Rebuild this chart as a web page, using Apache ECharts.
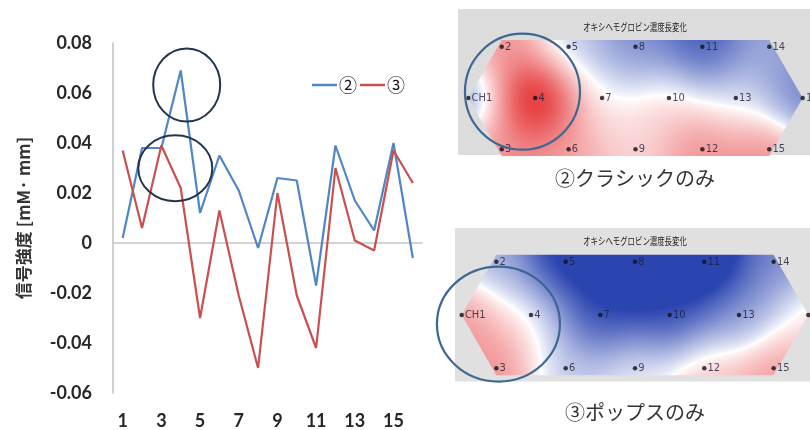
<!DOCTYPE html>
<html>
<head>
<meta charset="utf-8">
<script src="https://cdn.jsdelivr.net/npm/echarts@6/dist/echarts.min.js"></script>
<style>
  html, body { margin: 0; padding: 0; background: #fff; }
  #chart { width: 810px; height: 430px; }
</style>
</head>
<body>
<div id="chart"></div>
<script>
// ---- data ----
const channelNames = ['1','2','3','4','5','6','7','8','9','10','11','12','13','14','15','16'];
const seriesNames = ['②', '③'];
const classicValues = [0.002, 0.038, 0.038, 0.069, 0.012, 0.035, 0.021, -0.002, 0.026, 0.025, -0.017, 0.039, 0.017, 0.005, 0.040, -0.006];
const popsValues    = [0.037, 0.006, 0.039, 0.022, -0.030, 0.013, -0.021, -0.050, 0.020, -0.021, -0.042, 0.030, 0.001, -0.003, 0.037, 0.024];
const yMin = -0.06, yMax = 0.08, yStep = 0.02;
const yAxisTitle = '信号強度 [mM· mm]';

// probe layout on the head map (column / row of each channel)
const probeCol = [0, 1, 1, 2, 3, 3, 4, 5, 5, 6, 7, 7, 8, 9, 9, 10];
const probeRow = [1, 0, 2, 1, 0, 2, 1, 0, 2, 1, 0, 2, 1, 0, 2, 1];
const probeLabels = ['CH1','2','3','4','5','6','7','8','9','10','11','12','13','14','15','16'];
const mapTitle = 'オキシヘモグロビン濃度長変化';
const mapCaptions = ['②クラシックのみ', '③ポップスのみ'];

// highlighted spots: [category position (0-based), value] on the line chart
const lineHighlights = [[3.31, 0.0632], [2.72, 0.0299]];
// highlighted spots on each map: [column, row]
const mapHighlights = [[1.62, 0.877], [1.06, 1.17]];

// ---- colour scale for the maps ----
const NEUTRAL = 0.02;
function heatColor(v) {
  const white = [255, 255, 255];
  let target, t;
  if (v >= NEUTRAL) {
    target = [231, 68, 70];
    t = Math.min(1, (v - NEUTRAL) / 0.034);
    t = Math.pow(t, 0.85);
  } else {
    target = [42, 68, 176];
    t = Math.min(1, (NEUTRAL - v) / 0.042);
    t = Math.pow(t, 0.75);
  }
  return [0, 1, 2].map(k => white[k] + (target[k] - white[k]) * t);
}

// smoothed field of the probe values (Gaussian weighting), clipped to the hexagonal probe area
function buildField(api, values) {
  const pts = probeCol.map((c, i) => api.coord([c, probeRow[i]]));
  const colStep = api.coord([1, 0])[0] - api.coord([0, 0])[0];
  const sigma = colStep * 0.85;
  const inv2s2 = 1 / (2 * sigma * sigma);
  const hex = [[0, 1], [1, -0.13], [9, -0.13], [10, 1], [9, 2.13], [1, 2.13]].map(p => api.coord(p));
  const xs = hex.map(p => p[0]), ys = hex.map(p => p[1]);
  const x0 = Math.floor(Math.min(...xs)), x1 = Math.ceil(Math.max(...xs));
  const y0 = Math.floor(Math.min(...ys)), y1 = Math.ceil(Math.max(...ys));
  const w = x1 - x0, h = y1 - y0;
  const cv = document.createElement('canvas');
  cv.width = w; cv.height = h;
  const ctx = cv.getContext('2d');
  const img = ctx.createImageData(w, h);
  for (let y = 0; y < h; y++) {
    for (let x = 0; x < w; x++) {
      const px = x0 + x + 0.5, py = y0 + y + 0.5;
      let sw = 0, sv = 0;
      for (let i = 0; i < pts.length; i++) {
        const dx = px - pts[i][0], dy = py - pts[i][1];
        const wt = Math.exp(-(dx * dx + dy * dy) * inv2s2) + 1e-12;
        sw += wt; sv += wt * values[i];
      }
      const col = heatColor(sv / sw);
      const o = (y * w + x) * 4;
      img.data[o] = col[0]; img.data[o + 1] = col[1]; img.data[o + 2] = col[2]; img.data[o + 3] = 255;
    }
  }
  ctx.putImageData(img, 0, 0);
  ctx.globalCompositeOperation = 'destination-in';
  ctx.beginPath();
  hex.forEach((p, i) => i ? ctx.lineTo(p[0] - x0, p[1] - y0) : ctx.moveTo(p[0] - x0, p[1] - y0));
  ctx.closePath();
  ctx.fill();
  return { type: 'image', silent: true, style: { image: cv, x: x0, y: y0, width: w, height: h } };
}

function fieldSeries(gridIdx, values) {
  return {
    type: 'custom',
    xAxisIndex: gridIdx, yAxisIndex: gridIdx,
    z: 2, silent: true,
    data: probeCol.map((c, i) => [c, probeRow[i], values[i]]),
    renderItem: (params, api) => params.dataIndex === 0 ? buildField(api, values) : null
  };
}

function probeSeries(gridIdx) {
  return {
    type: 'scatter',
    xAxisIndex: gridIdx, yAxisIndex: gridIdx,
    z: 4, silent: true,
    symbolSize: 4.5,
    itemStyle: { color: '#111' },
    label: {
      show: true, position: 'right', distance: 1, formatter: '{b}',
      fontSize: 11, color: '#1d1d3a',
      fontFamily: '"DejaVu Sans Condensed", "Liberation Sans Narrow", "Liberation Sans", sans-serif'
    },
    data: probeCol.map((c, i) => ({ value: [c, probeRow[i]], name: probeLabels[i] }))
  };
}

const chart = echarts.init(document.getElementById('chart'), null, { renderer: 'canvas' });

const numFont = 'Lato, "Liberation Sans", sans-serif';
const option = {
  animation: false,
  backgroundColor: '#ffffff',
  legend: {
    data: seriesNames,
    left: 307, top: 71,
    icon: 'rect', itemWidth: 25, itemHeight: 2.5, itemGap: 3,
    textStyle: { fontSize: 18, color: '#111', fontFamily: '"Noto Sans CJK JP", sans-serif', padding: [0, 0, 0, -3] }
  },
  grid: [
    { left: 113, top: 43, width: 309.5, height: 350, outerBoundsMode: 'none' },
    { left: 468.3, top: 46.7, width: 334.4, height: 102.6, outerBoundsMode: 'none' },
    { left: 461.7, top: 261.7, width: 346.6, height: 106.6, outerBoundsMode: 'none' }
  ],
  xAxis: [
    {
      type: 'category', gridIndex: 0, data: channelNames, boundaryGap: true,
      axisLine: { show: false }, axisTick: { show: false },
      axisLabel: { interval: 1, margin: 19, fontSize: 18, fontWeight: 'bold', color: '#262626', fontFamily: numFont },
      splitLine: { show: false }
    },
    { type: 'value', gridIndex: 1, min: 0, max: 10, show: false },
    { type: 'value', gridIndex: 2, min: 0, max: 10, show: false }
  ],
  yAxis: [
    {
      type: 'value', gridIndex: 0, min: yMin, max: yMax, interval: yStep,
      name: yAxisTitle, nameLocation: 'middle', nameRotate: 90, nameGap: 81,
      nameTextStyle: { fontSize: 17, fontWeight: 'bold', color: '#333', fontFamily: '"Noto Sans CJK JP", sans-serif' },
      axisLine: { show: true, lineStyle: { color: '#c4c4c4', width: 1.6 } },
      axisTick: { show: false },
      splitLine: { show: false },
      axisLabel: {
        margin: 21, fontSize: 18, fontWeight: 'bold', color: '#262626', fontFamily: numFont,
        formatter: v => Math.abs(v) < 1e-9 ? '0' : v.toFixed(2)
      }
    },
    { type: 'value', gridIndex: 1, min: 0, max: 2, inverse: true, show: false },
    { type: 'value', gridIndex: 2, min: 0, max: 2, inverse: true, show: false }
  ],
  series: [
    {
      name: seriesNames[0], type: 'line', xAxisIndex: 0, yAxisIndex: 0,
      data: classicValues, symbol: 'none', z: 3,
      lineStyle: { color: '#4f86c6', width: 2.2 }, itemStyle: { color: '#4f86c6' },
      markLine: {
        silent: true, symbol: 'none', label: { show: false }, z: 1,
        lineStyle: { color: '#c4c4c4', width: 1.6, type: 'solid' },
        data: [{ yAxis: 0 }]
      }
    },
    {
      name: seriesNames[1], type: 'line', xAxisIndex: 0, yAxisIndex: 0,
      data: popsValues, symbol: 'none', z: 3,
      lineStyle: { color: '#c9504f', width: 2.2 }, itemStyle: { color: '#c9504f' }
    },
    fieldSeries(1, classicValues),
    probeSeries(1),
    fieldSeries(2, popsValues),
    probeSeries(2)
  ],
  graphic: [
    { id: 'bg1', type: 'rect', z: 0, silent: true, shape: { x: 458, y: 9, width: 360, height: 146 }, style: { fill: '#dcdcdc' } },
    { id: 'bg2', type: 'rect', z: 0, silent: true, shape: { x: 455, y: 228, width: 360, height: 153.5 }, style: { fill: '#e0e0e0' } },
    { id: 't1', type: 'text', z: 5, silent: true, x: 635, y: 27, scaleX: 0.74,
      style: { text: mapTitle, fontSize: 10, fill: '#222', align: 'center', verticalAlign: 'middle', fontFamily: '"Noto Sans CJK JP", sans-serif' } },
    { id: 't2', type: 'text', z: 5, silent: true, x: 635, y: 241, scaleX: 0.74,
      style: { text: mapTitle, fontSize: 10, fill: '#222', align: 'center', verticalAlign: 'middle', fontFamily: '"Noto Sans CJK JP", sans-serif' } },
    { id: 'c1', type: 'text', z: 5, silent: true, x: 635, y: 178,
      style: { text: mapCaptions[0], fontSize: 20, fill: '#333', align: 'center', verticalAlign: 'middle', fontFamily: '"Noto Sans CJK JP", sans-serif' } },
    { id: 'c2', type: 'text', z: 5, silent: true, x: 635, y: 412,
      style: { text: mapCaptions[1], fontSize: 20, fill: '#333', align: 'center', verticalAlign: 'middle', fontFamily: '"Noto Sans CJK JP", sans-serif' } }
  ]
};
chart.setOption(option);

// ring highlights, positioned through the axes
function linePoint(pos, val) {
  const i = Math.floor(pos), f = pos - i;
  const a = chart.convertToPixel({ gridIndex: 0 }, [i, val]);
  const b = chart.convertToPixel({ gridIndex: 0 }, [i + 1, val]);
  return [a[0] + (b[0] - a[0]) * f, a[1]];
}
const ring1 = linePoint(lineHighlights[0][0], lineHighlights[0][1]);
const ring2 = linePoint(lineHighlights[1][0], lineHighlights[1][1]);
const ring3 = chart.convertToPixel({ gridIndex: 1 }, mapHighlights[0]);
const ring4 = chart.convertToPixel({ gridIndex: 2 }, mapHighlights[1]);
const darkRing = { fill: 'none', stroke: '#22344f', lineWidth: 2 };
const blueRing = { fill: 'none', stroke: '#3c6893', lineWidth: 2.2 };
chart.setOption({
  graphic: [
    { id: 'r1', type: 'ellipse', z: 10, silent: true, shape: { cx: ring1[0], cy: ring1[1], rx: 33.5, ry: 36.5 }, style: darkRing },
    { id: 'r2', type: 'ellipse', z: 10, silent: true, shape: { cx: ring2[0], cy: ring2[1], rx: 37, ry: 33 }, style: darkRing },
    { id: 'r3', type: 'ellipse', z: 10, silent: true, shape: { cx: ring3[0], cy: ring3[1], rx: 57.5, ry: 58 }, style: blueRing },
    { id: 'r4', type: 'ellipse', z: 10, silent: true, shape: { cx: ring4[0], cy: ring4[1], rx: 61.5, ry: 57.5 }, style: blueRing }
  ]
});
</script>
</body>
</html>
